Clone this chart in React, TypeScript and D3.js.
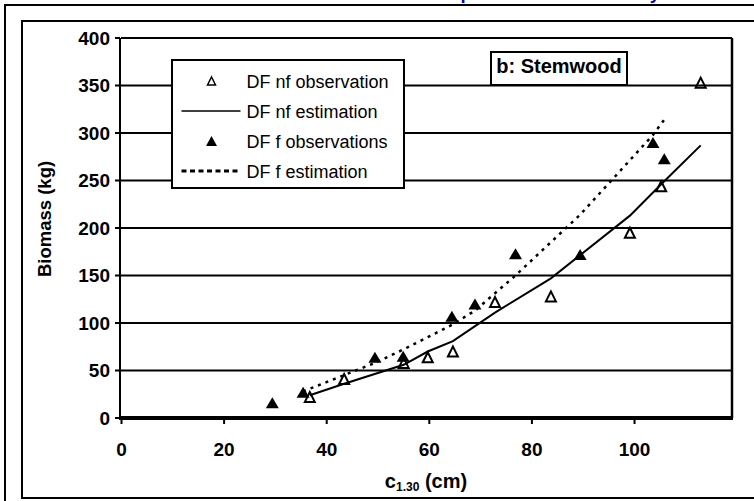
import React from "react";
import * as d3 from "d3";

// Axis ticks
const xTicks = [0, 20, 40, 60, 80, 100];
const yTicks = [0, 50, 100, 150, 200, 250, 300, 350, 400];
const gridValues = [50, 100, 150, 200, 250, 300, 350];

// DF nf: observations and estimation (circumference c1.30 in cm, biomass in kg)
const nfObsX = [36.7, 43.4, 55.0, 59.7, 64.6, 72.8, 83.7, 99.1, 105.2, 112.9];
const nfObsY = [22, 41, 58, 64, 70, 122, 128, 195, 244, 353];
const nfEstY = [24, 36, 56, 70, 81, 111, 147, 213, 246, 287];

// DF f: observations and estimation
const fObsX = [29.4, 35.4, 49.4, 54.9, 64.4, 68.9, 76.8, 89.4, 103.6, 105.8];
const fObsY = [16, 27, 64, 65, 107, 120, 173, 172, 290, 273];
const fEstX = [35.4, 49.4, 54.9, 64.4, 68.9, 76.8, 89.4, 103.6, 105.8];
const fEstY = [28, 58, 72, 98, 113, 150, 214, 298, 314];

const legendLabels = [
  "DF nf observation",
  "DF nf estimation",
  "DF f observations",
  "DF f estimation",
];

const FONT = "'Liberation Sans', Arial, Helvetica, sans-serif";

const W = 754;
const H = 501;
const plot = { left: 121, right: 732, top: 38, bottom: 418 };

const x = d3.scaleLinear().domain([0, 119]).range([121.5, plot.right]);
const y = d3.scaleLinear().domain([0, 400]).range([plot.bottom, plot.top]);

function tri(cx: number, cy: number, w: number, h: number) {
  return `M${cx - w / 2},${cy + h / 2}L${cx},${cy - h / 2}L${cx + w / 2},${cy + h / 2}Z`;
}

const line = d3
  .line<[number, number]>()
  .x((d) => x(d[0]))
  .y((d) => y(d[1]));

export default function App() {
  const nfEst: [number, number][] = nfObsX.map((v, i) => [v, nfEstY[i]]);
  const fEst: [number, number][] = fEstX.map((v, i) => [v, fEstY[i]]);

  const legX = 172;
  const legY = 60;
  const legW = 232;
  const legH = 128;
  const rowY = [81, 111, 141, 171];
  const symX = 211.5;

  return (
    <svg
      width={W}
      height={H}
      style={{ position: "absolute", left: 0, top: 0, background: "#fff" }}
      fontFamily={FONT}
    >
      <rect x={0} y={0} width={W} height={H} fill="#fff" />
      {/* chart title, running above the frame */}
      <text x={292} y={-1} fontSize={18.5} fontWeight="bold" fill="#0000cc">
        Stem biomass compartments of the study trees
      </text>

      {/* outer and inner frames */}
      <path d={`M5,${H + 5}V5H${W + 5}`} fill="none" stroke="#000" strokeWidth={2} />
      <path
        d={`M${W + 5},21H22V498H${W + 5}`}
        fill="none"
        stroke="#000"
        strokeWidth={2}
      />

      {/* horizontal grid */}
      {gridValues.map((v) => (
        <line
          key={v}
          x1={plot.left}
          x2={plot.right}
          y1={y(v)}
          y2={y(v)}
          stroke="#000"
          strokeWidth={2}
        />
      ))}

      {/* plot area border */}
      <line x1={plot.left} x2={plot.right} y1={plot.top} y2={plot.top} stroke="#000" strokeWidth={2} />
      <line x1={plot.right} x2={plot.right} y1={plot.top} y2={plot.bottom} stroke="#000" strokeWidth={2.5} />
      <line x1={120} x2={120} y1={plot.top} y2={plot.bottom + 1} stroke="#000" strokeWidth={2} />
      <line x1={119} x2={plot.right + 1} y1={y(0)} y2={y(0)} stroke="#000" strokeWidth={4} />

      {/* y axis ticks + labels */}
      {yTicks.map((v) => (
        <g key={v}>
          <line x1={115} x2={120} y1={y(v)} y2={y(v)} stroke="#000" strokeWidth={2} />
          <text
            x={110}
            y={y(v) + 6.8}
            textAnchor="end"
            fontSize={19}
            fontWeight="bold"
          >
            {v}
          </text>
        </g>
      ))}

      {/* x axis ticks + labels */}
      {xTicks.map((v) => (
        <g key={v}>
          <line x1={x(v)} x2={x(v)} y1={y(0)} y2={y(0) + 6} stroke="#000" strokeWidth={2} />
          <text x={x(v)} y={456} textAnchor="middle" fontSize={19} fontWeight="bold">
            {v}
          </text>
        </g>
      ))}

      {/* axis titles */}
      <text
        transform="translate(51,219) rotate(-90)"
        textAnchor="middle"
        fontSize={18.5}
        fontWeight="bold"
      >
        Biomass (kg)
      </text>
      <text x={426} y={488} textAnchor="middle" fontSize={20} fontWeight="bold">
        c
        <tspan fontSize={12} dy={3}>
          1.30
        </tspan>
        <tspan dy={-3}> (cm)</tspan>
      </text>

      {/* DF nf observation */}
      {nfObsX.map((v, i) => (
        <path
          key={"nfo" + i}
          d={tri(x(v), y(nfObsY[i]), 10, 10)}
          fill="none"
          stroke="#000"
          strokeWidth={2}
          strokeLinejoin="miter"
        />
      ))}

      {/* DF nf estimation */}
      <path d={line(nfEst) || ""} fill="none" stroke="#000" strokeWidth={2} />

      {/* DF f observations */}
      {fObsX.map((v, i) => (
        <path key={"fo" + i} d={tri(x(v), y(fObsY[i]), 13, 11)} fill="#000" />
      ))}

      {/* DF f estimation */}
      <path
        d={line(fEst) || ""}
        fill="none"
        stroke="#000"
        strokeWidth={2.5}
        strokeDasharray="3,5"
      />

      {/* legend */}
      <rect x={legX} y={legY} width={legW} height={legH} fill="#fff" stroke="#000" strokeWidth={2} />
      <path d={tri(symX, rowY[0], 8, 8)} fill="none" stroke="#000" strokeWidth={1.5} />
      <line x1={181.5} x2={240.5} y1={rowY[1]} y2={rowY[1]} stroke="#000" strokeWidth={1.5} />
      <path d={tri(symX, rowY[2], 11, 10)} fill="#000" />
      <line
        x1={181.5}
        x2={240.5}
        y1={rowY[3]}
        y2={rowY[3]}
        stroke="#000"
        strokeWidth={3}
        strokeDasharray="5,3.5"
      />
      {legendLabels.map((t, i) => (
        <text key={t} x={246.5} y={rowY[i] + 6.5} fontSize={18}>
          {t}
        </text>
      ))}

      {/* panel label */}
      <rect x={491} y={52} width={136} height={33} fill="#fff" stroke="#000" strokeWidth={2} />
      <text x={559} y={73} textAnchor="middle" fontSize={20} fontWeight="bold">
        b: Stemwood
      </text>
    </svg>
  );
}
